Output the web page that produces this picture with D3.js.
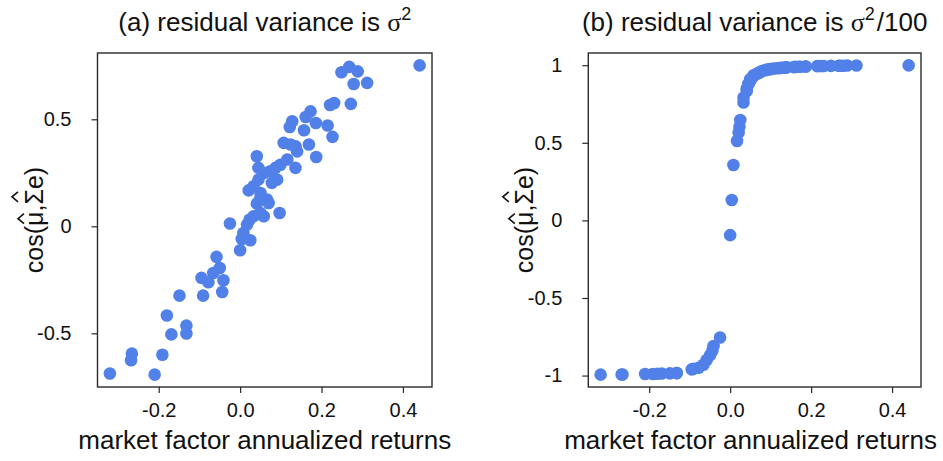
<!DOCTYPE html>
<html>
<head>
<meta charset="utf-8">
<script src="https://cdn.jsdelivr.net/npm/d3@7"></script>
<style>
  body { margin: 0; background: #fff; }
  text { font-family: "Liberation Sans", Arial, sans-serif; fill: #111; }
</style>
</head>
<body>
<svg id="chart" width="943" height="461"></svg>
<script>
// Annualized return of the market factor for each simulated period
const marketReturns = [
  -0.320, -0.268, -0.266, -0.210, -0.191, -0.180, -0.169, -0.149, -0.132, -0.132,
  -0.095, -0.091, -0.078, -0.066, -0.058, -0.050, -0.044, -0.041, -0.025,
   0.000,  0.004,  0.008,  0.017,  0.021,  0.023,  0.025,  0.033,  0.033,  0.041,
   0.041,  0.045,  0.045,  0.050,  0.050,  0.050,  0.058,  0.058,  0.066,  0.070,
   0.074,  0.078,  0.087,  0.091,  0.097,  0.099,  0.107,  0.116,  0.122,  0.124,
   0.128,  0.136,  0.136,  0.140,  0.157,  0.161,  0.169,  0.173,  0.186,  0.187,
   0.215,  0.221,  0.227,  0.231,  0.249,  0.268,  0.272,  0.279,  0.289,  0.312,
   0.441
];

// cos(mu_hat, Sigma_hat e) when residual variance is sigma^2
const cosFullVariance = [
  -0.688, -0.626, -0.595, -0.693, -0.600, -0.417, -0.505, -0.324, -0.464, -0.501,
  -0.241, -0.324, -0.261, -0.218, -0.143, -0.195, -0.307, -0.252,  0.013,
  -0.112, -0.059, -0.031,  0.008,  0.168,  0.031, -0.065,  0.047,  0.187,  0.106,
   0.327,  0.218,  0.273,  0.062,  0.133,  0.156,  0.047,  0.249,  0.125,  0.109,
   0.257,  0.203,  0.273,  0.218,  0.062,  0.288,  0.390,  0.312,  0.464,  0.382,
   0.491,  0.273,  0.374,  0.350,  0.449,  0.511,  0.382,  0.537,  0.483,  0.324,
   0.471,  0.567,  0.418,  0.576,  0.720,  0.745,  0.572,  0.665,  0.724,  0.670,
   0.752
];

// cos(mu_hat, Sigma_hat e) when residual variance is sigma^2 / 100
const cosReducedVariance = [
  -0.994, -0.993, -0.993, -0.990, -0.990, -0.988, -0.987, -0.986, -0.984, -0.984,
  -0.960, -0.957, -0.950, -0.930, -0.900, -0.870, -0.840, -0.810, -0.755,
  -0.095,  0.131,  0.357,  0.512,  0.566,  0.604,  0.647,  0.760,  0.790,  0.834,
   0.850,  0.877,  0.880,  0.900,  0.910,  0.910,  0.930,  0.935,  0.945,  0.950,
   0.955,  0.963,  0.968,  0.972,  0.974,  0.975,  0.978,  0.980,  0.982,  0.982,
   0.984,  0.985,  0.985,  0.986,  0.988,  0.989,  0.990,  0.990,  0.992,  0.992,
   0.994,  0.995,  0.995,  0.995,  0.996,  0.997,  0.997,  0.997,  0.998,  0.998,
   0.999
];

const xTicks = [-0.2, 0.0, 0.2, 0.4];
const yTicksFull = [-0.5, 0, 0.5];
const yTicksReduced = [-1, -0.5, 0, 0.5, 1];
const xLabel = "market factor annualized returns";

const W = 943;
const svg = d3.select("#chart");
const pointColor = "#5181e8";
const fmtX = d => d3.format(".1f")(d).replace("\u2212", "-");
const fmtY = d => String(d);

// R-style axis limits: data range widened by 4% on each side
function paddedExtent(values) {
  const [lo, hi] = d3.extent(values);
  const pad = 0.04 * (hi - lo);
  return [lo - pad, hi + pad];
}

const panels = [
  { left: 97.5, right: 432, top: 53, bottom: 387, ys: cosFullVariance, yTicks: yTicksFull,
    title: ["(a) residual variance is ", "\u03C3", "2", ""] },
  { left: 588.3, right: 921, top: 53, bottom: 387, ys: cosReducedVariance, yTicks: yTicksReduced,
    title: ["(b) residual variance is ", "\u03C3", "2", "/100"] }
];

const labelSize = 26;

panels.forEach(p => {
  const x = d3.scaleLinear().domain(paddedExtent(marketReturns)).range([p.left, p.right]);
  const y = d3.scaleLinear().domain(paddedExtent(p.ys)).range([p.bottom, p.top]);
  const g = svg.append("g");

  // points
  g.append("g").selectAll("circle")
    .data(marketReturns.map((v, i) => [v, p.ys[i]]))
    .join("circle")
    .attr("cx", d => x(d[0]))
    .attr("cy", d => y(d[1]))
    .attr("r", 6.3)
    .attr("fill", pointColor);

  // plot frame
  g.append("rect")
    .attr("x", p.left).attr("y", p.top)
    .attr("width", p.right - p.left).attr("height", p.bottom - p.top)
    .attr("fill", "none").attr("stroke", "#2a2a2a").attr("stroke-width", 1.4);

  // axes
  const xa = g.append("g").attr("transform", `translate(0,${p.bottom})`)
    .call(d3.axisBottom(x).tickValues(xTicks).tickFormat(fmtX).tickSize(6).tickPadding(10));
  const ya = g.append("g").attr("transform", `translate(${p.left},0)`)
    .call(d3.axisLeft(y).tickValues(p.yTicks).tickFormat(fmtY).tickSize(6).tickPadding(20));
  [xa, ya].forEach(a => {
    a.select(".domain").remove();
    a.selectAll("line").attr("stroke", "#2a2a2a").attr("stroke-width", 1.2);
    a.selectAll("text").attr("font-size", 20).attr("fill", "#111")
      .attr("font-family", "'Liberation Sans', Arial, sans-serif");
  });

  const cx = (p.left + p.right) / 2;

  // title with superscript
  const t = g.append("text").attr("x", cx).attr("y", 31)
    .attr("text-anchor", "middle").attr("font-size", labelSize);
  t.append("tspan").text(p.title[0]);
  t.append("tspan").text(p.title[1]).attr("font-family", "'Liberation Serif', serif");
  t.append("tspan").text(p.title[2]).attr("font-size", 18).attr("dy", -11);
  if (p.title[3]) t.append("tspan").text(p.title[3]).attr("dy", 11).attr("dx", 2);

  // x axis label, kept inside the canvas
  const xl = g.append("text").attr("y", 449)
    .attr("text-anchor", "middle").attr("font-size", labelSize).text(xLabel);
  const half = xl.node().getComputedTextLength() / 2;
  xl.attr("x", Math.min(cx, W - half - 6));

  // y axis label: cos(mu-hat, Sigma-hat e)
  const yl = g.append("g")
    .attr("transform", `translate(${p.left - 55},${(p.top + p.bottom) / 2}) rotate(-90)`);
  const lab = yl.append("text").attr("text-anchor", "middle").attr("font-size", 25)
    .text("cos(\u03BC,\u03A3e)");
  const fs = 25;
  [[4, 0.62], [6, 0.86]].forEach(([idx, lift]) => {
    const e = lab.node().getExtentOfChar(idx);
    const mx = e.x + e.width / 2;
    const base = -lift * fs - 3;
    yl.append("path")
      .attr("d", `M${mx - 5},${base} L${mx},${base - 6} L${mx + 5},${base}`)
      .attr("fill", "none").attr("stroke", "#111").attr("stroke-width", 1.6);
  });
});
</script>
</body>
</html>
